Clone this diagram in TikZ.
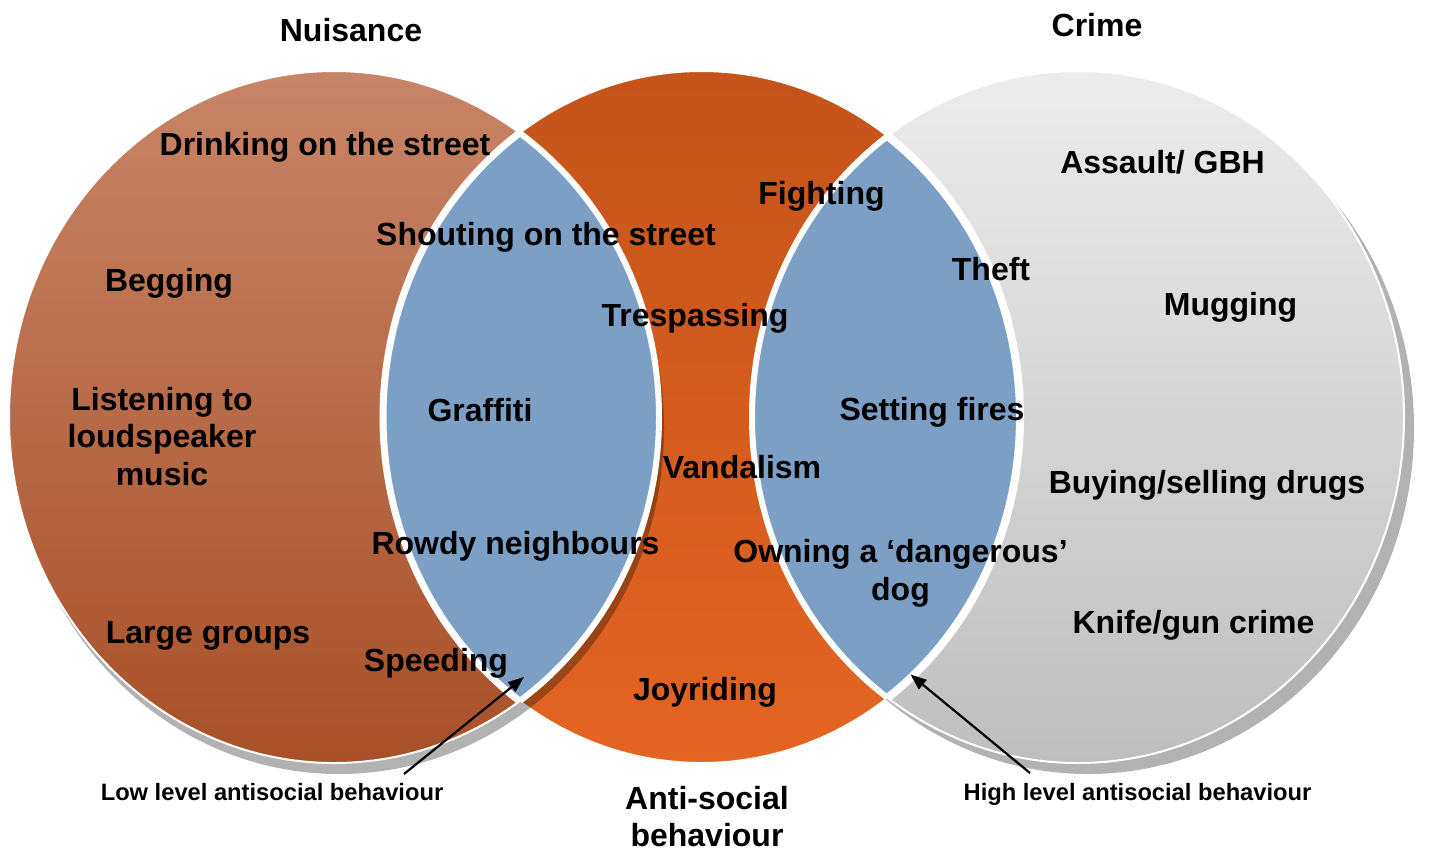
\documentclass[tikz,border=0pt]{standalone}
\usepackage{fontspec}
\setmainfont{Liberation Sans}
\usetikzlibrary{arrows.meta}
\definecolor{lensblue}{RGB}{124,160,197}
\definecolor{lefttop}{RGB}{199,133,103}
\definecolor{leftbot}{RGB}{168,80,40}
\definecolor{midtop}{RGB}{196,84,26}
\definecolor{midbot}{RGB}{228,100,34}
\definecolor{righttop}{RGB}{236,236,236}
\definecolor{rightbot}{RGB}{190,190,190}
\begin{document}
\begin{tikzpicture}[x=1pt,y=-1pt,
  lab/.style={font=\fontsize{32}{37.5}\selectfont\bfseries, align=center, anchor=base, inner sep=0pt},
  small/.style={font=\fontsize{23.7}{28}\selectfont\bfseries, anchor=base, inner sep=0pt},
  arr/.style={-{Triangle[length=16pt,width=12pt]}, line width=2.2pt, black},
  leftell/.style={x radius=325pt, y radius=346pt},
  midell/.style={x radius=318.5pt, y radius=346pt},
  rightell/.style={x radius=326pt, y radius=346pt}]
\useasboundingbox (0,0) rectangle (1429,855);
% middle circle
\path[draw=white, line width=2pt, top color=midtop, bottom color=midbot] (701.5,417) ellipse [midell];
% left circle with shadow
\fill[black, opacity=0.3] (339,428) ellipse [leftell];
\path[draw=white, line width=2pt, top color=lefttop, bottom color=leftbot] (334,417) ellipse [leftell];
% right circle with shadow
\fill[black, opacity=0.3] (1088,428) ellipse [rightell];
\path[draw=white, line width=2pt, top color=righttop, bottom color=rightbot] (1078,417) ellipse [rightell];
% left lens
\begin{scope}
  \clip (334,417) ellipse [leftell];
  \fill[lensblue] (701.5,417) ellipse [midell];
  \draw[white, line width=7pt] (701.5,417) ellipse [midell];
\end{scope}
\begin{scope}
  \clip (701.5,417) ellipse [midell];
  \draw[white, line width=6pt] (334,417) ellipse [leftell];
\end{scope}
% right lens
\begin{scope}
  \clip (701.5,417) ellipse [midell];
  \fill[lensblue] (1078,417) ellipse [rightell];
  \draw[white, line width=6pt] (1078,417) ellipse [rightell];
\end{scope}
\begin{scope}
  \clip (1078,417) ellipse [rightell];
  \draw[white, line width=8pt] (701.5,417) ellipse [midell];
\end{scope}
% titles
\node[lab] (nuisance) at (351,41) {Nuisance};
\node[lab] (crime) at (1097,36) {Crime};
\node[lab] (asb) at (707,846.5) {Anti-social\\behaviour};
% nuisance texts
\node[lab] (drinking) at (325,155) {Drinking on the street};
\node[lab] (begging) at (169,291) {Begging};
\node[lab] (listening) at (162,485) {Listening to\\loudspeaker\\music};
\node[lab] (large) at (208,643) {Large groups};
\node[lab] (speeding) at (436,671) {Speeding};
% left lens texts
\node[lab] (shouting) at (546,245) {Shouting on the street};
\node[lab] (graffiti) at (480,421.5) {Graffiti};
\node[lab] (rowdy) at (515.5,554) {Rowdy neighbours};
% anti-social texts
\node[lab] (trespassing) at (695,326) {Trespassing};
\node[lab] (vandalism) at (742,478) {Vandalism};
\node[lab] (joyriding) at (705,700) {Joyriding};
\node[lab] (fighting) at (821.5,204) {Fighting};
% right lens texts
\node[lab] (theft) at (991,280.5) {Theft};
\node[lab] (fires) at (932,420.5) {Setting fires};
\node[lab] (dog) at (900.5,600) {Owning a ‘dangerous’\\dog};
% crime texts
\node[lab] (assault) at (1162.5,173) {Assault/ GBH};
\node[lab] (mugging) at (1230.5,315) {Mugging};
\node[lab] (drugs) at (1207,493) {Buying/selling drugs};
\node[lab] (knife) at (1193.5,633) {Knife/gun crime};
% level labels and arrows
\node[small] (low) at (272,800.5) {Low level antisocial behaviour};
\node[small] (high) at (1137.5,800.5) {High level antisocial behaviour};
\coordinate (lowtail) at (404,774);
\coordinate (lowhead) at (524,677);
\coordinate (hightail) at (1030,773);
\coordinate (highhead) at (910.5,674.5);
\draw[arr] (lowtail) -- (lowhead);
\draw[arr] (hightail) -- (highhead);
\end{tikzpicture}
\end{document}
